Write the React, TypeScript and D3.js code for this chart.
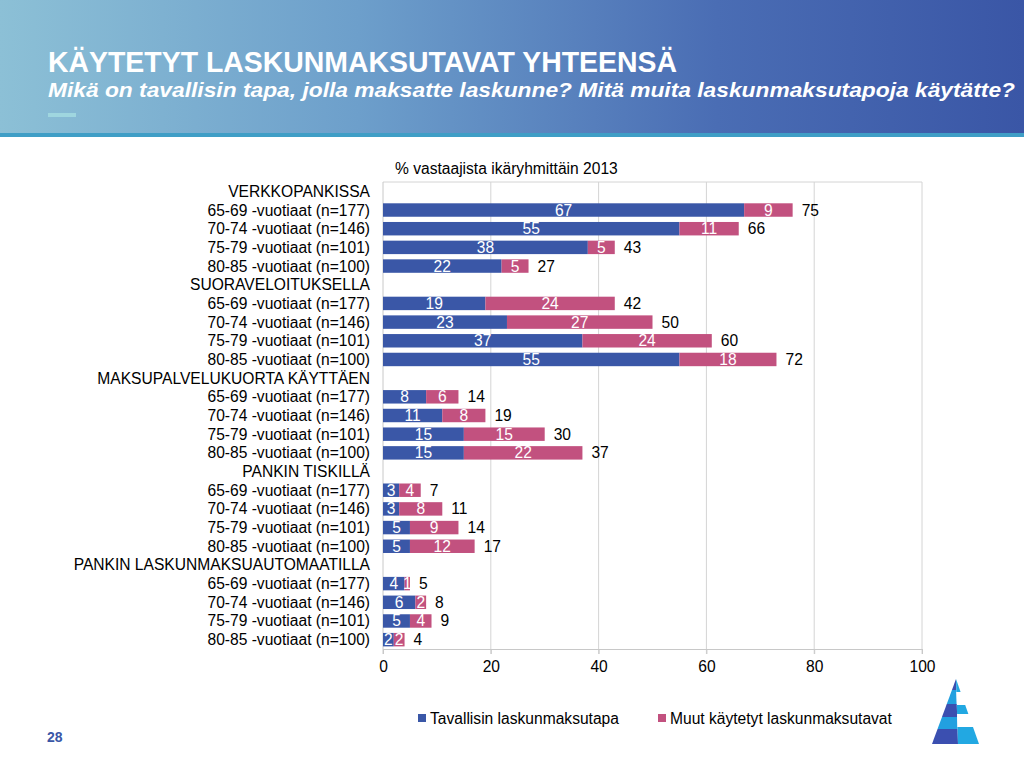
import { useEffect, useRef } from 'react';
import * as d3 from 'd3';

const groups = [
  'VERKKOPANKISSA',
  'SUORAVELOITUKSELLA',
  'MAKSUPALVELUKUORTA KÄYTTÄEN',
  'PANKIN TISKILLÄ',
  'PANKIN LASKUNMAKSUAUTOMAATILLA',
];
const ageGroups = [
  '65-69 -vuotiaat (n=177)',
  '70-74 -vuotiaat (n=146)',
  '75-79 -vuotiaat (n=101)',
  '80-85 -vuotiaat (n=100)',
];
const mainValues = [
  [67, 55, 38, 22],
  [19, 23, 37, 55],
  [8, 11, 15, 15],
  [3, 3, 5, 5],
  [4, 6, 5, 2],
];
const otherValues = [
  [9, 11, 5, 5],
  [24, 27, 24, 18],
  [6, 8, 15, 22],
  [4, 8, 9, 12],
  [1, 2, 4, 2],
];
const totals = [
  [75, 66, 43, 27],
  [42, 50, 60, 72],
  [14, 19, 30, 37],
  [7, 11, 14, 17],
  [5, 8, 9, 4],
];
const xTicks = [0, 20, 40, 60, 80, 100];
const seriesNames = ['Tavallisin laskunmaksutapa', 'Muut käytetyt laskunmaksutavat'];

const BLUE = '#3a57a7';
const PINK = '#c2517f';
const FONT = '"Liberation Sans", Arial, sans-serif';
const FS = 15.6;

type Row = { label: string; header: boolean; main?: number; other?: number; total?: number };

export default function App() {
  const svgRef = useRef<SVGSVGElement>(null);

  useEffect(() => {
    if (!svgRef.current) return;
    const svg = d3.select(svgRef.current);
    svg.selectAll('*').remove();

    // header band
    const defs = svg.append('defs');
    const grad = defs.append('linearGradient').attr('id', 'hdr').attr('x1', 0).attr('x2', 1).attr('y1', 0).attr('y2', 0);
    grad.append('stop').attr('offset', '0%').attr('stop-color', '#8cc0d6');
    grad.append('stop').attr('offset', '35%').attr('stop-color', '#6d9fcb');
    grad.append('stop').attr('offset', '70%').attr('stop-color', '#4a6db4');
    grad.append('stop').attr('offset', '100%').attr('stop-color', '#3a56a6');
    svg.append('rect').attr('x', 0).attr('y', 0).attr('width', 1024).attr('height', 134).attr('fill', 'url(#hdr)');
    svg.append('rect').attr('x', 0).attr('y', 133).attr('width', 1024).attr('height', 4).attr('fill', '#3f9ec6');
    svg.append('rect').attr('x', 48).attr('y', 113).attr('width', 28).attr('height', 4).attr('fill', '#9fd6df');

    svg.append('text').attr('x', 48).attr('y', 72)
      .attr('font-family', '"Liberation Sans Narrow", "Arial Narrow", sans-serif')
      .attr('font-weight', 'bold').attr('font-size', 29).attr('fill', '#fff')
      .attr('textLength', 629).attr('lengthAdjust', 'spacingAndGlyphs')
      .text('KÄYTETYT LASKUNMAKSUTAVAT YHTEENSÄ');
    svg.append('text').attr('x', 48).attr('y', 97)
      .attr('font-family', '"Liberation Sans Narrow", "Arial Narrow", sans-serif')
      .attr('font-weight', 'bold').attr('font-style', 'italic').attr('font-size', 20).attr('fill', '#fff')
      .attr('textLength', 967).attr('lengthAdjust', 'spacingAndGlyphs')
      .text('Mikä on tavallisin tapa, jolla maksatte laskunne? Mitä muita laskunmaksutapoja käytätte?');

    // rows
    const rows: Row[] = [];
    groups.forEach((g, gi) => {
      rows.push({ label: g, header: true });
      ageGroups.forEach((a, ai) => rows.push({
        label: a, header: false,
        main: mainValues[gi][ai], other: otherValues[gi][ai], total: totals[gi][ai],
      }));
    });

    const x = d3.scaleLinear().domain([0, 100]).range([383, 922]);
    const y = d3.scaleBand<number>()
      .domain(rows.map((_, i) => i))
      .range([182, 649])
      .paddingInner(0.28).paddingOuter(0.14);

    const plotTop = 182, plotBottom = 649;

    // grid + frame
    svg.append('g').selectAll('line').data(xTicks.slice(1)).enter().append('line')
      .attr('x1', d => x(d)).attr('x2', d => x(d))
      .attr('y1', plotTop).attr('y2', plotBottom + 5)
      .attr('stroke', '#d4d4d4').attr('stroke-width', 1);
    svg.append('line').attr('x1', x(0)).attr('x2', x(100)).attr('y1', plotTop).attr('y2', plotTop)
      .attr('stroke', '#d4d4d4');
    svg.append('line').attr('x1', x(0)).attr('x2', x(0)).attr('y1', plotTop).attr('y2', plotBottom + 5)
      .attr('stroke', '#c8c8c8');

    svg.append('text').attr('x', 395).attr('y', 174)
      .attr('font-family', FONT).attr('font-size', FS).attr('fill', '#000')
      .text('% vastaajista ikäryhmittäin 2013');

    // category labels
    svg.append('g').selectAll('text').data(rows).enter().append('text')
      .attr('x', 370).attr('y', (_, i) => y(i)! + y.bandwidth() / 2 + 5.5)
      .attr('text-anchor', 'end')
      .attr('font-family', FONT).attr('font-size', FS).attr('fill', '#000')
      .text(d => d.label);

    const data = rows.map((r, i) => ({ ...r, i })).filter(r => !r.header);
    const bh = y.bandwidth();

    svg.append('g').selectAll('rect').data(data).enter().append('rect')
      .attr('x', x(0)).attr('y', d => y(d.i)!)
      .attr('width', d => x(d.main!) - x(0)).attr('height', bh)
      .attr('fill', BLUE);
    svg.append('g').selectAll('rect').data(data).enter().append('rect')
      .attr('x', d => x(d.main!)).attr('y', d => y(d.i)!)
      .attr('width', d => x(d.main! + d.other!) - x(d.main!)).attr('height', bh)
      .attr('fill', PINK);

    svg.append('g').selectAll('text').data(data).enter().append('text')
      .attr('x', d => (x(0) + x(d.main!)) / 2).attr('y', d => y(d.i)! + bh / 2 + 5.5)
      .attr('text-anchor', 'middle')
      .attr('font-family', FONT).attr('font-size', FS).attr('fill', '#fff')
      .text(d => d.main!);
    svg.append('g').selectAll('text').data(data).enter().append('text')
      .attr('x', d => (x(d.main!) + x(d.main! + d.other!)) / 2).attr('y', d => y(d.i)! + bh / 2 + 5.5)
      .attr('text-anchor', 'middle')
      .attr('font-family', FONT).attr('font-size', FS).attr('fill', '#fff')
      .text(d => d.other!);
    svg.append('g').selectAll('text').data(data).enter().append('text')
      .attr('x', d => x(d.main! + d.other!) + 9).attr('y', d => y(d.i)! + bh / 2 + 5.5)
      .attr('font-family', FONT).attr('font-size', FS).attr('fill', '#000')
      .text(d => d.total!);

    // x axis
    const axis = svg.append('g').attr('transform', `translate(0,${plotBottom})`)
      .call(d3.axisBottom(x).tickValues(xTicks).tickSize(5).tickSizeOuter(0));
    axis.select('.domain').attr('stroke', '#c8c8c8');
    axis.selectAll('line').attr('stroke', '#c8c8c8');
    axis.selectAll('text').attr('font-family', FONT).attr('font-size', FS).attr('fill', '#000').attr('dy', '0.95em');

    // legend
    const legend = svg.append('g');
    const lx = [418, 658];
    seriesNames.forEach((name, i) => {
      legend.append('rect').attr('x', lx[i]).attr('y', 714).attr('width', 8).attr('height', 8)
        .attr('fill', i === 0 ? BLUE : PINK);
      legend.append('text').attr('x', lx[i] + 12).attr('y', 724)
        .attr('font-family', FONT).attr('font-size', FS).attr('fill', '#000').text(name);
    });

    // page number
    svg.append('text').attr('x', 47).attr('y', 742)
      .attr('font-family', FONT).attr('font-weight', 'bold')
      .attr('font-size', 14).attr('fill', '#3a56a6').text('28');

    // logo cone
    const logo = svg.append('g');
    const apex = [956, 679], bl = [932, 744], br = [979, 744];
    const edgeL = (yy: number) => apex[0] + (bl[0] - apex[0]) * (yy - apex[1]) / (bl[1] - apex[1]);
    const edgeR = (yy: number) => apex[0] + (br[0] - apex[0]) * (yy - apex[1]) / (br[1] - apex[1]);
    const mid = (yy: number) => apex[0] + 2 * (yy - apex[1]) / (bl[1] - apex[1]);
    const leftBands = [679, 690, 704, 717, 729, 744];
    const rightBands = [679, 692, 705, 714, 727, 744];
    const leftCols = ['#3b4fb0', '#22a0e0', '#3b4fb0', '#22a0e0', '#3b4fb0'];
    const rightCols = ['#22a8e2', '#ffffff', '#22a8e2', '#ffffff', '#22a8e2'];
    for (let k = 0; k < 5; k++) {
      const y0 = leftBands[k], y1 = leftBands[k + 1];
      logo.append('polygon')
        .attr('points', `${edgeL(y0)},${y0} ${mid(y0)},${y0} ${mid(y1)},${y1} ${edgeL(y1)},${y1}`)
        .attr('fill', leftCols[k]);
      const r0 = rightBands[k], r1 = rightBands[k + 1];
      logo.append('polygon')
        .attr('points', `${mid(r0)},${r0} ${edgeR(r0)},${r0} ${edgeR(r1)},${r1} ${mid(r1)},${r1}`)
        .attr('fill', rightCols[k]);
    }
  }, []);

  return (
    <div style={{ position: 'fixed', left: 0, top: 0, width: 1024, height: 768, background: '#fff' }}>
      <svg ref={svgRef} width={1024} height={768} style={{ display: 'block' }} />
    </div>
  );
}
